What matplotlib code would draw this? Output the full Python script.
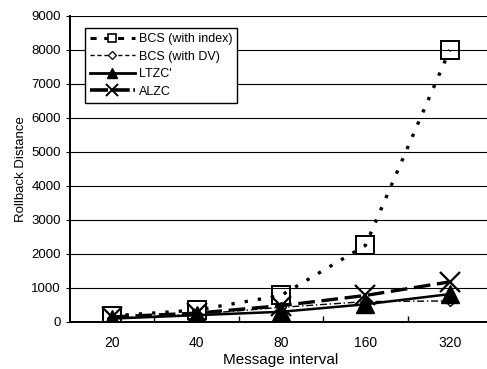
import matplotlib.pyplot as plt
from matplotlib.lines import Line2D
import numpy as np

plt.rcParams['font.family'] = ['Liberation Sans', 'DejaVu Sans']

# data
intervals = ['20', '40', '80', '160', '320']
bcs_index = [180, 350, 780, 2250, 8000]
bcs_dv = [110, 230, 430, 600, 620]
ltzc = [100, 200, 300, 520, 820]
alzc = [150, 260, 480, 780, 1180]
labels = ['BCS (with index)', 'BCS (with DV)', "LTZC'", 'ALZC']

x = np.arange(len(intervals))

fig = plt.figure(figsize=(4.87, 3.69), dpi=100)
ax = fig.add_axes([0.1437, 0.1274, 0.8665, 0.8293])

ax.plot(x, bcs_index, color='black', lw=2.4, ls=(0, (1, 3)),
        marker='s', ms=13, mfc='none', mec='black', mew=1.4)
ax.plot(x, bcs_dv, color='black', lw=1.0, ls=(0, (5, 2, 1, 2)),
        marker='D', ms=5, mfc='white', mec='black', mew=1.0)
ax.plot(x, ltzc, color='black', lw=1.8, ls='-',
        marker='^', ms=13, mfc='black', mec='black')
ax.plot(x, alzc, color='black', lw=2.4, ls=(0, (5, 2)),
        marker='x', ms=14, mew=1.6)

ax.set_xlim(-0.5, 4.5)
ax.set_ylim(0, 9000)
ax.set_yticks(np.arange(0, 9001, 1000))
ax.set_xticks(x)
ax.set_xticklabels(intervals, fontsize=10)
ax.set_xticks(np.arange(0.5, 4, 1), minor=True)
ax.tick_params(axis='x', which='major', length=0, pad=10)
ax.tick_params(axis='x', which='minor', direction='in', length=4, width=1)
ax.tick_params(axis='y', labelsize=9.5, length=3, width=0.8)

ax.grid(axis='y', color='black', lw=0.8)
ax.set_axisbelow(True)
for s in ['top', 'right']:
    ax.spines[s].set_visible(False)
for s in ['left', 'bottom']:
    ax.spines[s].set_linewidth(1.4)

ax.set_xlabel('Message interval', fontsize=11, labelpad=2)
ax.set_ylabel('Rollback Distance', fontsize=9.5, labelpad=3)

# legend handles with smaller markers, like the original
handles = [
    Line2D([], [], color='black', lw=2.2, ls=(0, (2, 2.5)), marker='s',
           ms=6, mfc='white', mec='black', mew=1.2),
    Line2D([], [], color='black', lw=1.0, ls=(0, (3, 2)), marker='D',
           ms=4, mfc='white', mec='black', mew=0.9),
    Line2D([], [], color='black', lw=2.0, ls='-', marker='^',
           ms=7, mfc='black', mec='black'),
    Line2D([], [], color='black', lw=2.6, ls=(0, (5, 1)), marker='x',
           ms=8, mew=1.4),
]
leg = ax.legend(handles, labels, loc='upper left',
                bbox_to_anchor=(0.035, 0.961),
                borderaxespad=0, fontsize=9, handlelength=3.6,
                labelspacing=0.45, handletextpad=0.3, borderpad=0.4,
                fancybox=False, framealpha=1, edgecolor='black')
leg.get_frame().set_linewidth(1.0)

fig.savefig('out.png', dpi=100)
